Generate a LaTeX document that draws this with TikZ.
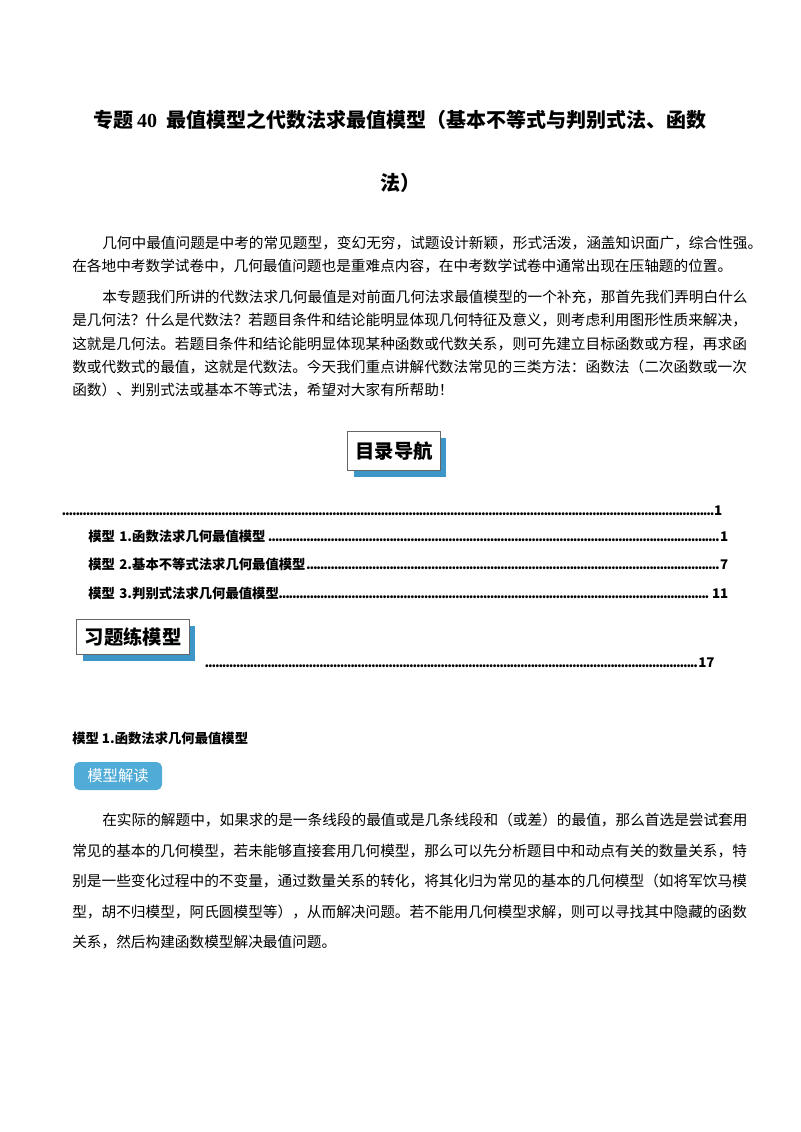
\documentclass[tikz,border=0pt]{standalone}
\usepackage{fontspec}
\setmainfont{Liberation Serif}
\newfontfamily\cjk{Noto Sans CJK SC}
\definecolor{sh}{RGB}{60,150,200}
\definecolor{badge}{RGB}{80,172,215}
\newcommand{\mydots}{\leaders\hbox to 2.6pt{\hss.\hss}\hfill}
\begin{document}
\begin{tikzpicture}[x=0.75pt,y=-0.75pt,
  body/.style={anchor=west,inner sep=0,font=\cjk\fontsize{11}{13}\selectfont},
  toc/.style={anchor=west,inner sep=0,font=\cjk\bfseries\fontsize{10}{12}\selectfont,align=left},
  tbox/.style={draw=black!60,fill=white,inner xsep=6pt,inner ysep=4pt,font=\cjk\bfseries\fontsize{14.5}{16}\selectfont}]
\useasboundingbox[fill=white] (0,0) rectangle (800,1132);
\node[inner sep=0,font=\cjk\bfseries\fontsize{15}{18}\selectfont] (t1) at (400,120) {专题\,{\rmfamily\bfseries 40}\ \ 最值模型之代数法求最值模型（基本不等式与判别式法、函数};
\node[inner sep=0,font=\cjk\bfseries\fontsize{15}{18}\selectfont] (t2) at (400,183) {法）};
\node[body] (p1) at (102,243) {几何中最值问题是中考的常见题型，变幻无穷，试题设计新颖，形式活泼，涵盖知识面广，综合性强。};
\node[body] (p2) at (72,266) {在各地中考数学试卷中，几何最值问题也是重难点内容，在中考数学试卷中通常出现在压轴题的位置。};
\node[body] (p3) at (102,297) {本专题我们所讲的代数法求几何最值是对前面几何法求最值模型的一个补充，那首先我们弄明白什么};
\node[body] (p4) at (72,320) {是几何法？什么是代数法？若题目条件和结论能明显体现几何特征及意义，则考虑利用图形性质来解决，};
\node[body] (p5) at (72,344) {这就是几何法。若题目条件和结论能明显体现某种函数或代数关系，则可先建立目标函数或方程，再求函};
\node[body] (p6) at (72,367) {数或代数式的最值，这就是代数法。今天我们重点讲解代数法常见的三类方法：函数法（二次函数或一次};
\node[body] (p7) at (72,390) {函数）、判别式法或基本不等式法，希望对大家有所帮助！};
% 目录导航
\fill[sh] (354,438) rectangle (446,477);
\node[tbox,minimum width=69pt,minimum height=29pt] (m) at (394,451) {目录导航};
\node[toc,text width=495pt] (c0) at (62,511) {\mydots 1};
\node[toc,text width=480pt] (c1) at (88,536) {模型 1.函数法求几何最值模型\mydots 1};
\node[toc,text width=480pt] (c2) at (88,564) {模型 2.基本不等式法求几何最值模型\mydots 7};
\node[toc,text width=480pt] (c3) at (88,593) {模型 3.判别式法求几何最值模型\mydots 11};
% 习题练模型
\fill[sh] (83,626) rectangle (195,661);
\node[tbox,minimum width=84pt,minimum height=26pt] (x) at (133,637) {习题练模型};
\node[toc,text width=382pt] (c4) at (205,663) {\mydots 17};
\node[toc] (h1) at (72,738) {模型 1.函数法求几何最值模型};
\node[fill=badge,rounded corners=4pt,minimum width=66pt,minimum height=21pt,inner sep=0,text=white,font=\cjk\fontsize{11.5}{13}\selectfont] (b) at (118,776) {模型解读};
\node[body] (q1) at (102,820) {在实际的解题中，如果求的是一条线段的最值或是几条线段和（或差）的最值，那么首选是尝试套用};
\node[body] (q2) at (72,851) {常见的基本的几何模型，若未能够直接套用几何模型，那么可以先分析题目中和动点有关的数量关系，特};
\node[body] (q3) at (72,881) {别是一些变化过程中的不变量，通过数量关系的转化，将其化归为常见的基本的几何模型（如将军饮马模};
\node[body] (q4) at (72,912) {型，胡不归模型，阿氏圆模型等），从而解决问题。若不能用几何模型求解，则可以寻找其中隐藏的函数};
\node[body] (q5) at (72,942) {关系，然后构建函数模型解决最值问题。};
\end{tikzpicture}
\end{document}
